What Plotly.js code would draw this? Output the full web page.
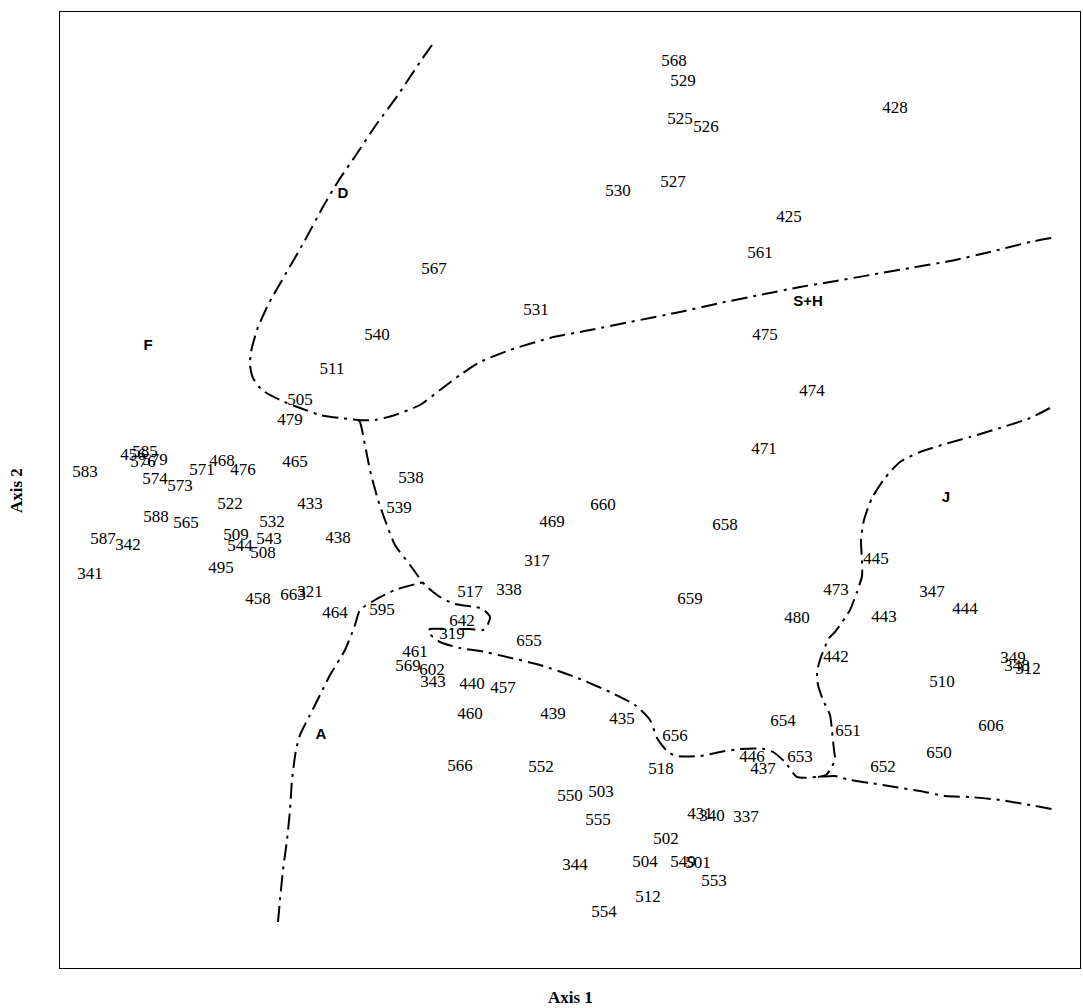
<!DOCTYPE html>
<html>
<head>
<meta charset="utf-8">
<script src="https://cdn.plot.ly/plotly-3.0.1.min.js"></script>
<style>html,body{margin:0;padding:0;background:#fff;}#chart{width:1083px;height:1008px;}</style>
</head>
<body>
<div id="chart"></div>
<script>
// Sample scores (y grows downward in these units)
const sampleLabels = ["568","529","525","526","428","530","527","425","561","567",
  "531","540","475","511","474","505","479","471",
  "456","585","576","579","583","574","573","571","468","476","465","522","433",
  "588","565","532","587","342","509","543","544","508","438","341","495","458","663","321","464",
  "538","539","469","317","660","658","659",
  "595","517","338","642","319","655","461","569","602","343","440","457","460","439",
  "435","566","552","656","446","437","518","550","503","555","431","340","337","502",
  "344","504","549","501","553","512","554",
  "445","473","347","480","443","444","442","349","348","312","510","654","651","606","653","650","652"];
const sampleX = [674,683,680,706,895,618,673,789,760,434,
  536,377,765,332,812,300,290,764,
  133,145,143,155,85,155,180,202,222,243,295,230,310,
  156,186,272,103,128,236,269,240,263,338,90,221,258,293,310,335,
  411,399,552,537,603,725,690,
  382,470,509,462,452,529,415,408,432,433,472,503,470,553,
  622,460,541,675,752,763,661,570,601,598,700,712,746,666,
  575,645,683,698,714,648,604,
  876,836,932,797,884,965,836,1013,1017,1028,942,783,848,991,800,939,883];
const sampleY = [62,82,120,128,109,192,183,218,254,270,
  311,336,336,370,392,401,421,450,
  456,453,463,461,473,480,487,471,462,471,463,505,505,
  518,524,523,540,546,536,540,547,554,539,575,569,600,596,593,614,
  479,509,523,562,506,526,600,
  611,593,591,622,635,642,653,667,671,683,685,689,715,715,
  720,767,768,737,758,770,770,797,793,821,815,817,818,840,
  866,863,863,864,882,898,913,
  560,591,593,619,618,610,658,659,667,670,683,722,732,727,758,754,768];

// Group labels
const groupLabels = ["D","F","S+H","J","A"];
const groupX = [343,148,808,946,321];
const groupY = [194,346,302,498,735];

// Boundary lines
const lineDX = [432,420,398,376,356,339,324,304,285,268,257,251,250,253,262,280,300,320,340,358,375,395,420,440,460,480,510,550,590,630,680,720,760,800,830,870,910,950,990,1030,1057];
const lineDY = [45,62,95,125,155,180,205,242,275,305,330,352,365,378,390,400,408,415,418,420,420,415,405,390,375,362,350,338,330,322,312,303,295,287,282,275,268,261,252,242,237];

const lineCX = [358,360,365,370,378,385,395,410,425,440,455,475,483,490,487,483,470,445,430,428,440,460,480,507,540,575,610,635,650,657,668,677,700,720,740,765,773,785,797,817,835,850,870,895,920,945,970,1000,1030,1057];
const lineCY = [420,422,445,470,500,520,545,565,585,597,604,607,609,617,626,630,629,629,629,632,642,648,651,657,665,677,692,705,720,738,752,756,756,752,749,749,752,762,777,777,776,780,783,787,791,796,797,800,805,810];

const lineAX = [278,280,283,287,290,292,296,300,310,320,330,345,355,360,375,395,420,427];
const lineAY = [922,900,870,840,810,780,750,735,715,695,675,650,625,610,600,590,583,582];

const lineJX = [1050,1030,1000,970,945,920,900,885,872,864,861,862,862,857,850,845,835,829,820,817,818,823,830,832,834,835,830,826,818];
const lineJY = [408,418,428,437,444,452,462,478,498,520,540,560,576,592,610,618,632,638,660,672,685,700,715,731,750,760,770,775,777];

const dashStyle = "16px,6px,3px,6px";
function lineTrace(x, y) {
  return {x: x, y: y, mode: "lines", type: "scatter", hoverinfo: "skip",
          line: {color: "#000", width: 2, dash: dashStyle, shape: "spline", smoothing: 0.6}};
}

const traces = [
  lineTrace(lineDX, lineDY),
  lineTrace(lineCX, lineCY),
  lineTrace(lineAX, lineAY),
  lineTrace(lineJX, lineJY),
  {x: sampleX, y: sampleY, text: sampleLabels, mode: "text", type: "scatter",
   textposition: "middle center", hoverinfo: "text",
   textfont: {family: "Liberation Serif, Times New Roman, serif", size: 17, color: "#000"}},
  {x: groupX, y: groupY, text: groupLabels, mode: "text", type: "scatter",
   textposition: "middle center", hoverinfo: "text",
   textfont: {family: "Liberation Sans, Arial, sans-serif", size: 15, color: "#000", weight: "bold"}}
];

const layout = {
  width: 1083, height: 1008,
  margin: {l: 60, r: 3, t: 12, b: 40},
  paper_bgcolor: "#fff", plot_bgcolor: "#fff",
  showlegend: false,
  xaxis: {range: [60, 1080], showgrid: false, zeroline: false, showticklabels: false, ticks: "",
          showline: true, mirror: true, linecolor: "#000", linewidth: 1},
  yaxis: {range: [968, 12], showgrid: false, zeroline: false, showticklabels: false, ticks: "",
          showline: true, mirror: true, linecolor: "#000", linewidth: 1},
  annotations: [
    {text: "<b>Axis 1</b>", xref: "paper", yref: "paper", x: 0.5, y: -0.031,
     xanchor: "center", yanchor: "middle", showarrow: false,
     font: {family: "Liberation Serif, Times New Roman, serif", size: 17, color: "#000"}},
    {text: "<b>Axis 2</b>", xref: "paper", yref: "paper", x: -0.042, y: 0.499,
     xanchor: "center", yanchor: "middle", showarrow: false, textangle: -90,
     font: {family: "Liberation Serif, Times New Roman, serif", size: 17, color: "#000"}}
  ]
};

Plotly.newPlot("chart", traces, layout, {displayModeBar: false, staticPlot: true});
</script>
</body>
</html>
